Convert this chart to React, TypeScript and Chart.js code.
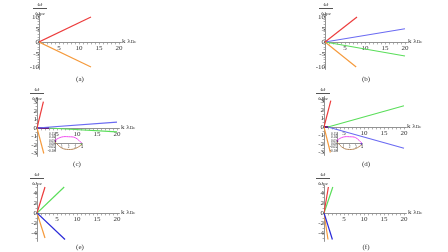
import React, { useEffect, useRef } from "react";
import { Chart, registerables } from "chart.js";
Chart.register(...registerables);

const FONT = "'Liberation Serif', 'DejaVu Serif', serif";
const RED = "#ec3c3c";
const ORANGE = "#f59a3c";
const BLUE = "#6a6af2";
const DBLUE = "#2a2ad8";
const GREEN = "#5ade5a";
const PURPLE = "#6a1f7a";
const MAGENTA = "#f04cf0";
const BROWN = "#b5875a";
const AXIS = "#777777";
const TEXT = "#333333";

// ---- panel (a)
const A_RED_K = [0, 13];
const A_RED_W = [0, 10];
const A_ORANGE_K = [0, 13];
const A_ORANGE_W = [0, -10];
// ---- panel (b)
const B_RED_K = [0, 8];
const B_RED_W = [0, 10];
const B_ORANGE_K = [0, 7.8];
const B_ORANGE_W = [0, -10];
const B_BLUE_K = [0, 20];
const B_BLUE_W = [0, 5.3];
const B_GREEN_K = [0, 20];
const B_GREEN_W = [0, -5.6];
// ---- panel (c)
const C_RED_K = [0, 1.6];
const C_RED_W = [0, 3.1];
const C_ORANGE_K = [0, 1.7];
const C_ORANGE_W = [0, -3];
const C_BLUE_K = [0, 20];
const C_BLUE_W = [0, 0.7];
const C_GREEN_K = [3, 20];
const C_GREEN_W = [0, -0.45];
const C_PURPLE_K = [0, 3];
const C_PURPLE_W = [0, 0];
// inset (c)
const CI_K = [0, 1, 2, 3, 4];
const CI_MAGENTA = [0.06, 0.106, 0.11, 0.095, 0.01];
const CI_BROWN = [0.03, -0.06, -0.083, -0.068, -0.01];
// ---- panel (d)
const D_RED_K = [0, 1.7];
const D_RED_W = [0, 3.1];
const D_ORANGE_K = [0, 1.6];
const D_ORANGE_W = [0, -3];
const D_GREEN_K = [1, 20];
const D_GREEN_W = [0, 2.5];
const D_BLUE_K = [1, 20];
const D_BLUE_W = [0, -2.5];
const D_PURPLE_K = [0, 1.5];
const D_PURPLE_W = [0, 0];
// inset (d)
const DI_K = [0, 1, 2, 3, 4];
const DI_MAGENTA = [0.06, 0.105, 0.11, 0.095, 0.01];
const DI_BROWN = [0.03, -0.06, -0.083, -0.068, -0.01];
// ---- panel (e)
const E_RED_K = [0, 2];
const E_RED_W = [0, 5.2];
const E_GREEN_K = [0, 6.8];
const E_GREEN_W = [0, 5.2];
const E_BLUE_K = [0, 7];
const E_BLUE_W = [0, -5.3];
const E_ORANGE_K = [0, 2];
const E_ORANGE_W = [0, -5];
// ---- panel (f)
const F_RED_K = [0, 1.1];
const F_RED_W = [0, 5.2];
const F_GREEN_K = [0, 2.2];
const F_GREEN_W = [0, 5.2];
const F_BLUE_K = [0, 2.1];
const F_BLUE_W = [0, -5.3];
const F_ORANGE_K = [0, 1.0];
const F_ORANGE_W = [0, -5.3];

type Line = { k: number[]; w: number[]; color: string; width?: number; tension?: number; point?: boolean };
type Spec = {
  left: number; top: number; w: number; h: number;
  x0: number; y0: number; xpx: number; ypx: number;
  xMin: number; xMax: number; yMin: number; yMax: number;
  xStep: number; xLabelEvery: number; yStep: number; yLabelEvery: number;
  font: number; tick: number; hideXZero: boolean; yDecimals: number; xDecimals: number;
  lines: Line[];
};

const isMult = (v: number, s: number) => Math.abs(v / s - Math.round(v / s)) < 1e-6;

function makeConfig(s: Spec): any {
  const pad = {
    left: s.x0 - s.left + s.xMin * s.xpx,
    right: s.left + s.w - (s.x0 + s.xMax * s.xpx),
    top: s.y0 - s.yMax * s.ypx - s.top,
    bottom: s.top + s.h - (s.y0 - s.yMin * s.ypx),
  };
  const datasets = s.lines.map((l) => ({
    data: l.k.map((k, i) => ({ x: k, y: l.w[i] })),
    borderColor: l.color,
    backgroundColor: l.color,
    borderWidth: l.point ? 0 : l.width ?? 1.2,
    showLine: !l.point,
    pointRadius: l.point ? 1.3 : 0,
    tension: l.tension ?? 0,
  }));
  return {
    type: "scatter",
    data: { datasets },
    options: {
      animation: false,
      responsive: false,
      devicePixelRatio: 1,
      layout: { padding: pad },
      plugins: { legend: { display: false }, tooltip: { enabled: false } },
      scales: {
        x: {
          type: "linear",
          min: s.xMin,
          max: s.xMax,
          position: { y: 0 },
          afterBuildTicks: (sc: any) => {
            sc.ticks = sc.ticks.filter((t: any) => isMult(t.value, s.xStep));
          },
          border: { display: true, color: AXIS, width: 0.8 },
          grid: { drawOnChartArea: false, drawTicks: true, tickLength: s.tick, color: AXIS, lineWidth: 0.6 },
          ticks: {
            stepSize: s.xStep,
            includeBounds: false,
            autoSkip: false,
            maxRotation: 0,
            padding: 0,
            color: TEXT,
            font: { family: FONT, size: s.font },
            callback: (v: any) => {
              const n = Number(v);
              if (!isMult(n, s.xLabelEvery)) return "";
              if (s.hideXZero && Math.abs(n) < 1e-9) return "";
              return n.toFixed(s.xDecimals);
            },
          },
        },
        y: {
          type: "linear",
          min: s.yMin,
          max: s.yMax,
          position: { x: 0 },
          afterBuildTicks: (sc: any) => {
            sc.ticks = sc.ticks.filter((t: any) => isMult(t.value, s.yStep));
          },
          border: { display: true, color: AXIS, width: 0.8 },
          grid: { drawOnChartArea: false, drawTicks: true, tickLength: s.tick, color: AXIS, lineWidth: 0.6 },
          ticks: {
            stepSize: s.yStep,
            includeBounds: false,
            autoSkip: false,
            padding: 0,
            color: TEXT,
            font: { family: FONT, size: s.font },
            callback: (v: any) => {
              const n = Number(v);
              if (!isMult(n, s.yLabelEvery)) return "";
              return n.toFixed(s.yDecimals);
            },
          },
        },
      },
    },
  };
}

function Panel({ spec }: { spec: Spec }) {
  const ref = useRef<HTMLCanvasElement | null>(null);
  useEffect(() => {
    if (!ref.current) return;
    const c = new Chart(ref.current, makeConfig(spec));
    return () => c.destroy();
  }, [spec]);
  return (
    <canvas
      ref={ref}
      width={spec.w}
      height={spec.h}
      style={{ position: "absolute", left: spec.left, top: spec.top, width: spec.w, height: spec.h }}
    />
  );
}

const base = { xStep: 1, xLabelEvery: 5, font: 7, tick: 1.5, hideXZero: true, yDecimals: 0, xDecimals: 0, xMin: 0, xMax: 20.5, xpx: 4 };

const SPECS: Spec[] = [
  {
    ...base, left: 0, top: 0, w: 150, h: 84, x0: 39, y0: 42, ypx: 2.5, yMin: -10.8, yMax: 11, yStep: 1, yLabelEvery: 5,
    lines: [
      { k: A_RED_K, w: A_RED_W, color: RED },
      { k: A_ORANGE_K, w: A_ORANGE_W, color: ORANGE },
    ],
  },
  {
    ...base, left: 290, top: 0, w: 158, h: 84, x0: 325, y0: 42, ypx: 2.5, yMin: -10.8, yMax: 11, yStep: 1, yLabelEvery: 5,
    lines: [
      { k: B_RED_K, w: B_RED_W, color: RED },
      { k: B_ORANGE_K, w: B_ORANGE_W, color: ORANGE },
      { k: B_BLUE_K, w: B_BLUE_W, color: BLUE },
      { k: B_GREEN_K, w: B_GREEN_W, color: GREEN },
    ],
  },
  {
    ...base, left: 0, top: 85, w: 150, h: 84, x0: 37, y0: 128, ypx: 8.5, yMin: -3.3, yMax: 3.6, yStep: 0.5, yLabelEvery: 1,
    lines: [
      { k: C_RED_K, w: C_RED_W, color: RED },
      { k: C_ORANGE_K, w: C_ORANGE_W, color: ORANGE },
      { k: C_BLUE_K, w: C_BLUE_W, color: BLUE },
      { k: C_GREEN_K, w: C_GREEN_W, color: GREEN },
      { k: C_PURPLE_K, w: C_PURPLE_W, color: PURPLE, width: 1.8 },
    ],
  },
  {
    ...base, left: 290, top: 85, w: 158, h: 84, x0: 324, y0: 127, ypx: 8.5, yMin: -3.3, yMax: 3.6, yStep: 0.5, yLabelEvery: 1,
    lines: [
      { k: D_RED_K, w: D_RED_W, color: RED },
      { k: D_ORANGE_K, w: D_ORANGE_W, color: ORANGE },
      { k: D_GREEN_K, w: D_GREEN_W, color: GREEN },
      { k: D_BLUE_K, w: D_BLUE_W, color: BLUE },
      { k: D_PURPLE_K, w: D_PURPLE_W, color: PURPLE, width: 1.8 },
    ],
  },
  {
    ...base, left: 0, top: 170, w: 150, h: 82, x0: 37, y0: 213, ypx: 5, yMin: -5.6, yMax: 5.6, yStep: 1, yLabelEvery: 2,
    lines: [
      { k: E_RED_K, w: E_RED_W, color: RED },
      { k: E_GREEN_K, w: E_GREEN_W, color: GREEN },
      { k: E_BLUE_K, w: E_BLUE_W, color: DBLUE },
      { k: E_ORANGE_K, w: E_ORANGE_W, color: ORANGE },
    ],
  },
  {
    ...base, left: 290, top: 170, w: 158, h: 82, x0: 324, y0: 213, ypx: 5, yMin: -5.6, yMax: 5.6, yStep: 1, yLabelEvery: 2,
    lines: [
      { k: F_RED_K, w: F_RED_W, color: RED },
      { k: F_GREEN_K, w: F_GREEN_W, color: GREEN },
      { k: F_BLUE_K, w: F_BLUE_W, color: DBLUE },
      { k: F_ORANGE_K, w: F_ORANGE_W, color: ORANGE },
    ],
  },
];

const insetBase = { xStep: 1, xLabelEvery: 1, font: 3.5, tick: 1, hideXZero: true, yDecimals: 2, xDecimals: 0, xMin: 0, xMax: 4, xpx: 6.75, ypx: 66, yMin: -0.12, yMax: 0.17, yStep: 0.05, yLabelEvery: 0.05 };

const INSETS: Spec[] = [
  {
    ...insetBase, left: 40, top: 128, w: 50, h: 28, x0: 55, y0: 144,
    lines: [
      { k: CI_K, w: CI_MAGENTA, color: MAGENTA, width: 1, tension: 0.4 },
      { k: CI_K, w: CI_BROWN, color: BROWN, width: 1, tension: 0.4 },
      { k: [4], w: [0], color: "#33bb33", point: true },
      { k: [0], w: [0.045], color: PURPLE, point: true },
    ],
  },
  {
    ...insetBase, left: 322, top: 128, w: 48, h: 28, x0: 337, y0: 144, xpx: 6.25,
    lines: [
      { k: DI_K, w: DI_MAGENTA, color: MAGENTA, width: 1, tension: 0.4 },
      { k: DI_K, w: DI_BROWN, color: BROWN, width: 1, tension: 0.4 },
      { k: [4], w: [0], color: DBLUE, point: true },
      { k: [0], w: [0.045], color: PURPLE, point: true },
    ],
  },
];

function YLabel({ x, y }: { x: number; y: number }) {
  return (
    <div style={{ position: "absolute", left: x - 9, top: y, width: 18, textAlign: "center", fontFamily: FONT, fontSize: 7, lineHeight: "6px", color: TEXT, fontStyle: "italic" }}>
      <div>ω</div>
      <div style={{ borderTop: "0.6px solid #555", margin: "1px 2px 0", paddingTop: 1 }}>
        ω<span style={{ fontSize: 5 }}>pe</span>
      </div>
    </div>
  );
}

function XLabel({ x, y }: { x: number; y: number }) {
  return (
    <div style={{ position: "absolute", left: x, top: y - 5, fontFamily: FONT, fontSize: 7, lineHeight: "8px", color: TEXT, whiteSpace: "nowrap" }}>
      k λ<span style={{ fontSize: 5 }}>De</span>
    </div>
  );
}

function Caption({ x, y, t }: { x: number; y: number; t: string }) {
  return (
    <div style={{ position: "absolute", left: x - 10, top: y - 5, width: 20, textAlign: "center", fontFamily: FONT, fontSize: 7, lineHeight: "8px", color: TEXT }}>
      {t}
    </div>
  );
}

const YLABELS = [
  { x: 40, y: 1 }, { x: 326, y: 1 }, { x: 37, y: 86 }, { x: 323, y: 86 }, { x: 37, y: 171 }, { x: 323, y: 171 },
];
const XLABELS = [
  { x: 122, y: 42 }, { x: 408, y: 42 }, { x: 121, y: 128 }, { x: 407, y: 127 }, { x: 121, y: 213 }, { x: 408, y: 213 },
];
const CAPTIONS = [
  { x: 80, y: 80, t: "(a)" }, { x: 366, y: 80, t: "(b)" }, { x: 77, y: 165, t: "(c)" },
  { x: 366, y: 165, t: "(d)" }, { x: 80, y: 248, t: "(e)" }, { x: 366, y: 248, t: "(f)" },
];

export default function App() {
  return (
    <div style={{ position: "fixed", left: 0, top: 0, width: 448, height: 252, background: "#fff", overflow: "hidden" }}>
      {SPECS.map((s, i) => <Panel key={"p" + i} spec={s} />)}
      {INSETS.map((s, i) => <Panel key={"i" + i} spec={s} />)}
      {YLABELS.map((p, i) => <YLabel key={"y" + i} x={p.x} y={p.y} />)}
      {XLABELS.map((p, i) => <XLabel key={"x" + i} x={p.x} y={p.y} />)}
      {CAPTIONS.map((p, i) => <Caption key={"c" + i} x={p.x} y={p.y} t={p.t} />)}
    </div>
  );
}
